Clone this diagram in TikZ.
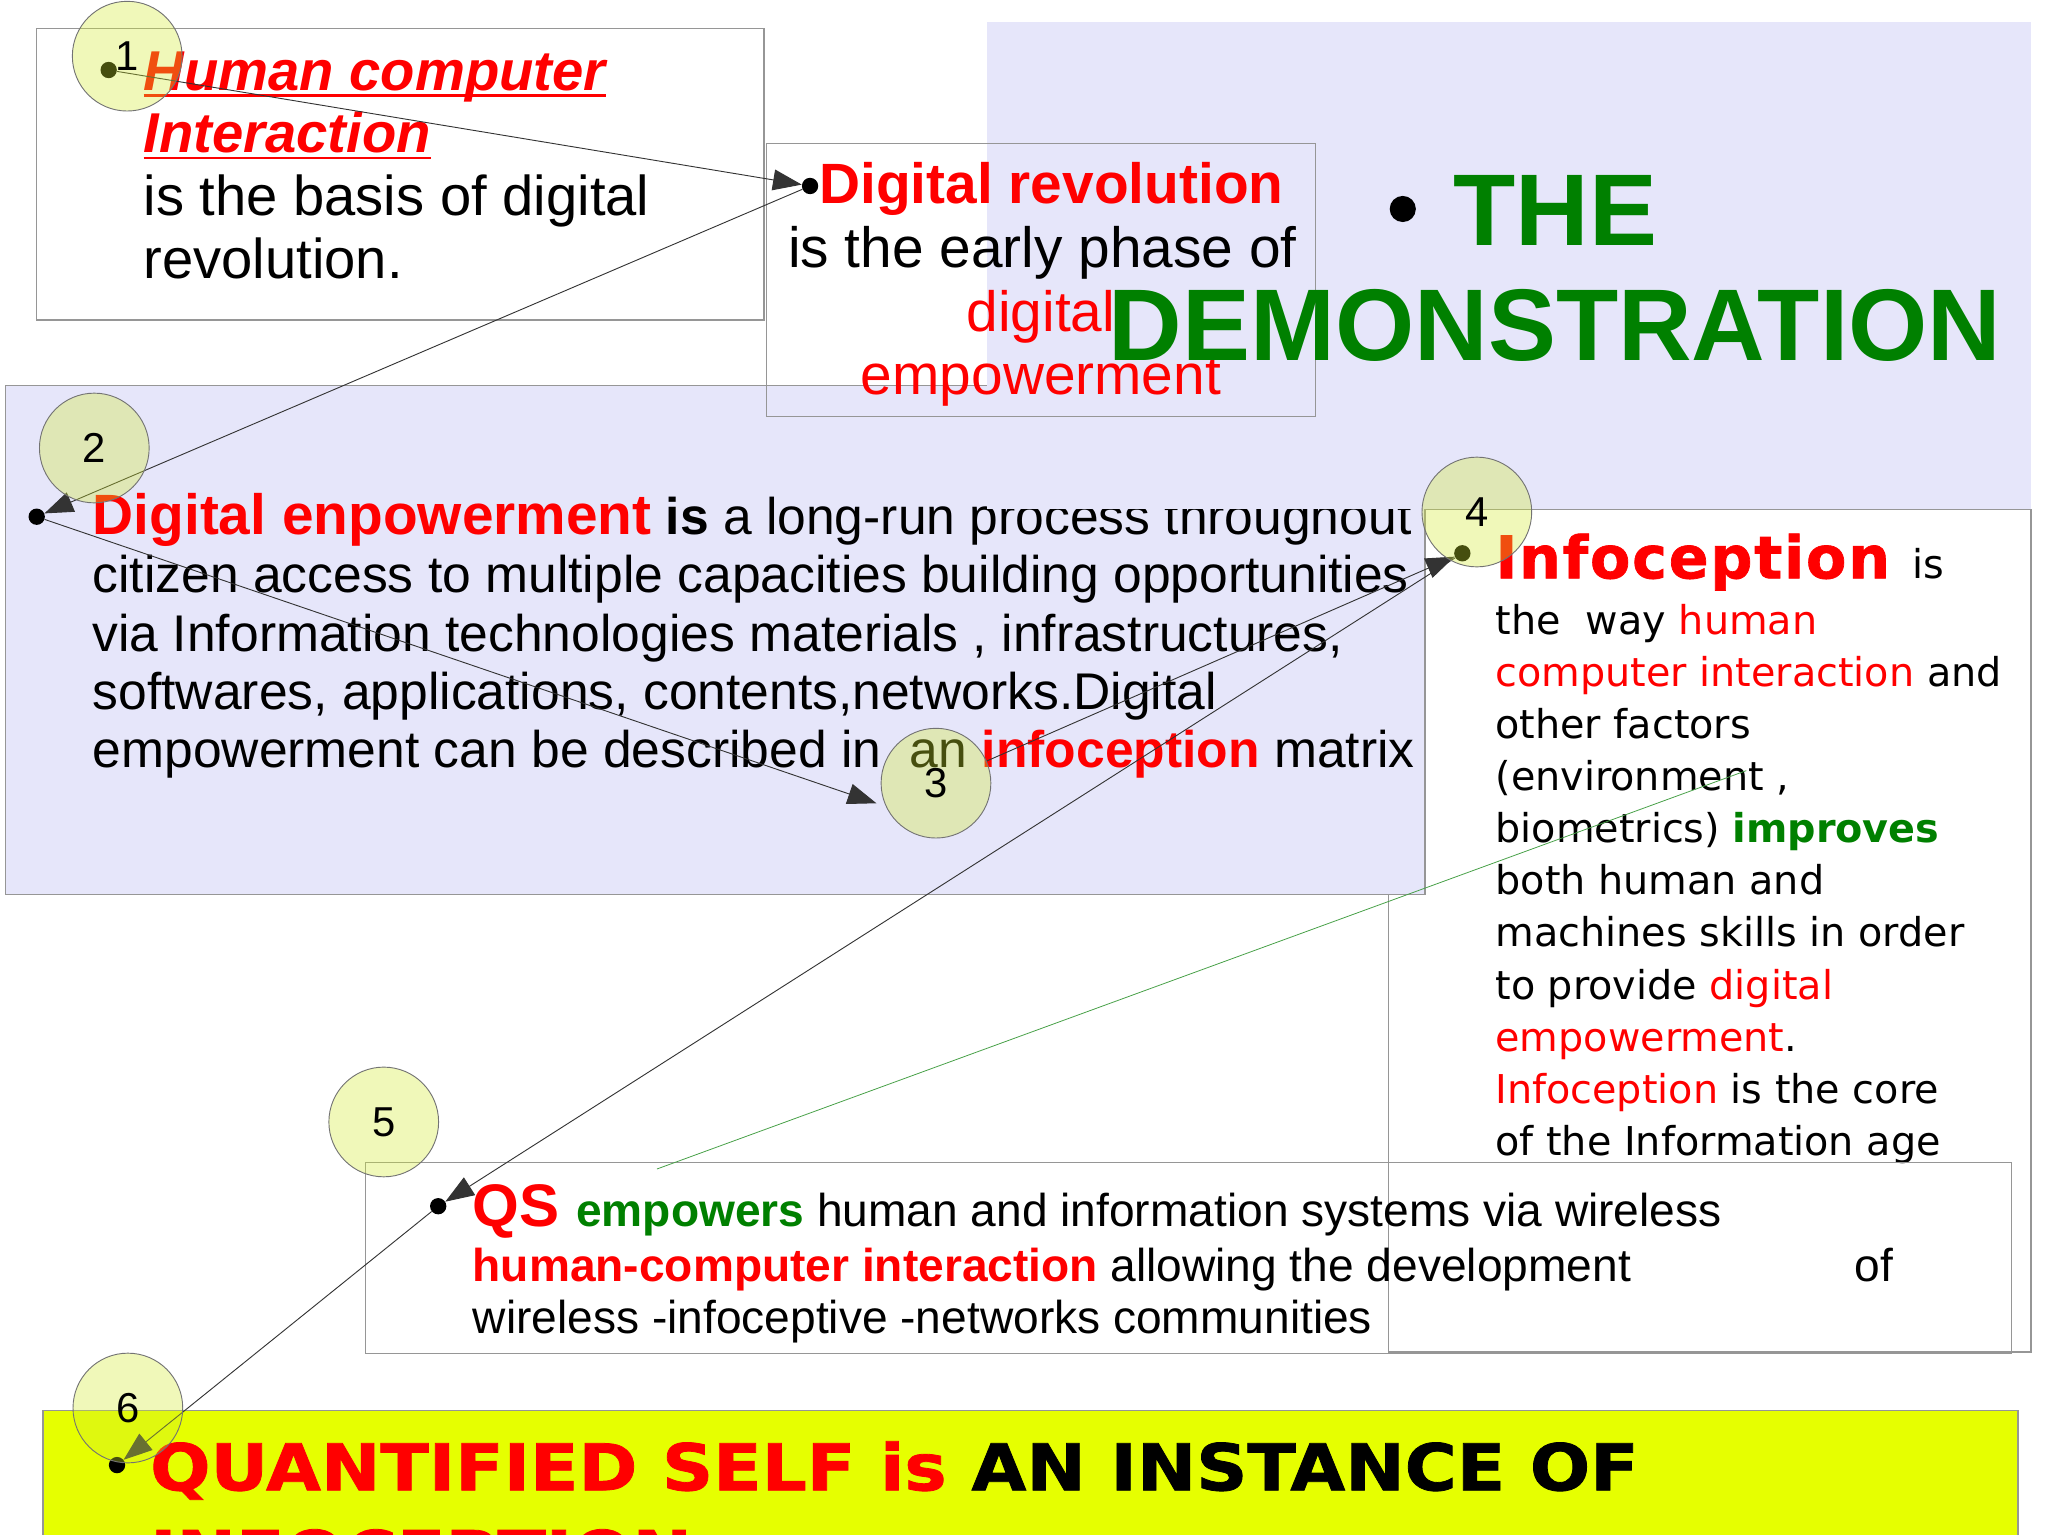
\documentclass[tikz,border=0pt]{standalone}
\usepackage{fontspec}
\setmainfont{Liberation Sans}
\newfontfamily\dvfont{DejaVu Sans}
\newfontfamily\heavyfont[FakeStretch=1.1,FakeBold=1.2]{DejaVu Sans}
\newfontfamily\heavyfontB[FakeBold=1.2,LetterSpace=3]{DejaVu Sans}
\usetikzlibrary{arrows.meta}
\definecolor{lav}{RGB}{230,230,250}
\definecolor{myred}{RGB}{255,0,0}
\definecolor{mygreen}{RGB}{0,128,0}
\definecolor{lgreen}{RGB}{70,160,70}
\definecolor{ybar}{RGB}{230,255,0}
\definecolor{circfill}{RGB}{210,234,45}
\definecolor{boxgray}{RGB}{150,150,150}
\newcommand\fsz[2]{\fontsize{#1}{#2}\selectfont}
\pgfdeclarelayer{front}
\pgfsetlayers{main,front}
\begin{document}
\begin{tikzpicture}[x=1pt,y=-1pt,
  txt/.style={inner sep=0pt, outer sep=0pt, anchor=base west},
  ctxt/.style={inner sep=0pt, outer sep=0pt, anchor=base},
  frame/.style={draw=boxgray, line width=1pt},
  dotn/.style={circle, fill=black, inner sep=0pt, minimum size=12.5pt},
  conn/.style={draw=black!80, line width=0.7pt},
  arr/.style={conn, -{Triangle[length=22pt,width=16pt]}},
  numc/.style={circle, inner sep=0pt, minimum size=84pt, fill=circfill, fill opacity=0.333, text opacity=1, draw=black!55, line width=0.7pt, font=\fsz{32}{32}}
]
\useasboundingbox (0,0) rectangle (1568,1175);
\clip (0,0) rectangle (1568,1175);
\fill[white] (0,0) rectangle (1568,1175);

% numbered circles (front layer)
\begin{pgfonlayer}{front}
\node[numc] (c1) at (97.4,43) {1};
\node[numc] (c2) at (72.2,343) {2};
\node[numc] (c3) at (716.6,599.6) {3};
\node[numc] (c4) at (1130.7,392) {4};
\node[numc] (c5) at (293.8,859) {5};
\node[numc] (c6) at (97.9,1078) {6};
\end{pgfonlayer}

% box 1
\draw[frame] (28,22) rectangle (585,245);
\node[txt] (hci1) at (110,69) {\fsz{43}{48}\bfseries\itshape\color{myred}Human computer};
\node[txt] (hci2) at (110,117) {\fsz{43}{48}\bfseries\itshape\color{myred}Interaction};
\draw[myred, line width=2pt] ([yshift=-4pt]hci1.base west) -- ([yshift=-4pt]hci1.base east);
\draw[myred, line width=2pt] ([yshift=-4pt]hci2.base west) -- ([yshift=-4pt]hci2.base east);
\node[txt] (hci3) at (110,165) {\fsz{43}{48}is the basis of digital};
\node[txt] (hci4) at (110,213) {\fsz{43}{48}revolution.};

% infoception box
\draw[frame, fill=white] (1063,390) rectangle (1555,1035);
\node[txt] (inf0) at (1145,442.8) {\heavyfontB\bfseries\fsz{45}{45}\color{myred}Infoception};
\node[txt] (inf0b) at (1464,442.8) {\dvfont\fsz{30.4}{40}is};
\node[txt] (inf1) at (1145,485.6) {\dvfont\fsz{30.4}{40}the\ \ way \textcolor{myred}{human}};
\node[txt] (inf2) at (1145,525.5) {\dvfont\fsz{30.4}{40}\textcolor{myred}{computer interaction} and};
\node[txt] (inf3) at (1145,565.4) {\dvfont\fsz{30.4}{40}other factors};
\node[txt] (inf4) at (1145,605.3) {\dvfont\fsz{30.4}{40}(environment ,};
\node[txt] (inf5) at (1145,645.2) {\dvfont\fsz{30.4}{40}biometrics) \textcolor{mygreen}{\bfseries improves}};
\node[txt] (inf6) at (1145,685.1) {\dvfont\fsz{30.4}{40}both human and};
\node[txt] (inf7) at (1145,725.0) {\dvfont\fsz{30.4}{40}machines skills in order};
\node[txt] (inf8) at (1145,764.9) {\dvfont\fsz{30.4}{40}to provide \textcolor{myred}{digital}};
\node[txt] (inf9) at (1145,804.8) {\dvfont\fsz{30.4}{40}\textcolor{myred}{empowerment}.};
\node[txt] (inf10) at (1145,844.7) {\dvfont\fsz{30.4}{40}\textcolor{myred}{Infoception} is the core};
\node[txt] (inf11) at (1145,884.6) {\dvfont\fsz{30.4}{40}of the Information age};

% QS box
\draw[frame] (280,890) rectangle (1540,1036);
\node[txt] (q1) at (362,939) {\fsz{35.3}{41}\textcolor{myred}{\bfseries\fsz{46}{41}QS }\textcolor{mygreen}{\bfseries empowers} human and information systems via wireless};
\node[txt] (q2) at (362,981) {\fsz{35.3}{41}\textcolor{myred}{\bfseries human-computer interaction} allowing the development};
\node[txt] (q2b) at (1420,981) {\fsz{35.3}{41}of};
\node[txt] (q3) at (362,1021) {\fsz{35.3}{41}wireless -infoceptive -networks communities};

% middle lavender box
\draw[frame, fill=lav] (4,295) rectangle (1091,685);
\node[txt] (m1) at (71,409.5) {\fsz{39.5}{44}\textcolor{myred}{\bfseries\fsz{43.5}{44}Digital enpowerment} \textbf{is} a long-run process throughout};
\node[txt] (m2) at (71,454) {\fsz{39.5}{44}citizen access to multiple capacities building opportunities};
\node[txt] (m3) at (71,498.5) {\fsz{39.5}{44}via Information technologies materials , infrastructures,};
\node[txt] (m4) at (71,543) {\fsz{39.5}{44}softwares, applications, contents,networks.Digital};
\node[txt] (m5) at (71,587.5) {\fsz{39.5}{44}empowerment can be described in\ \ an \textcolor{myred}{\bfseries infoception} matrix};

% top-right lavender panel
\fill[lav] (756,17) rectangle (1555,390);

% box 2
\draw[frame] (587,110) rectangle (1007,319);
\node[ctxt] (dr1) at (805,156) {\fsz{43.5}{49}\bfseries\color{myred}Digital revolution};
\node[ctxt] (dr2) at (798,205) {\fsz{43.5}{49}is the early phase of};
\node[ctxt] (dr3) at (797,254) {\fsz{43.5}{49}\color{myred}digital};
\node[ctxt] (dr4) at (797,302) {\fsz{43.5}{49}\color{myred}empowerment};

% title
\node[circle, fill=black, inner sep=0pt, minimum size=20pt] (bul) at (1074,160) {};
\node[txt] (the) at (1113,188) {\fsz{78}{88}\bfseries\color{mygreen}THE};
\node[txt] (demo) at (849,276) {\fsz{78}{88}\bfseries\color{mygreen}DEMONSTRATION};

% yellow bar
\draw[draw=boxgray, fill=ybar, line width=1pt] (33,1080) rectangle (1545,1200);
\node[txt] (y1) at (115,1141) {\heavyfont\bfseries\fsz{49.4}{66}\textcolor{myred}{QUANTIFIED SELF is} AN INSTANCE OF};
\node[txt] (y2) at (115,1207.5) {\heavyfont\bfseries\fsz{49.4}{66}\textcolor{myred}{INFOCEPTION}};

% dots
\node[dotn] (d1) at (83.2,53.6) {};
\node[dotn] (dr) at (620.2,142.4) {};
\node[dotn] (d2) at (28.1,395.6) {};
\coordinate (c3in) at (671,615);
\node[dotn] (d4) at (1119.6,423.6) {};
\node[dotn] (d5) at (335.5,923.5) {};
\node[dotn] (d6) at (89.6,1121.7) {};
\coordinate (g1) at (503,895);
\coordinate (g2) at (1337,590);

% connectors
\draw[arr] (d1) -- (dr);
\draw[arr] (dr) -- (d2);
\draw[arr] (d2) -- (c3in);
\draw[arr] (c3) -- (d4);
\draw[arr] (d4) -- (d5);
\draw[arr] (d5) -- (d6);
\draw[lgreen, line width=0.6pt] (g1) -- (g2);
\end{tikzpicture}
\end{document}
